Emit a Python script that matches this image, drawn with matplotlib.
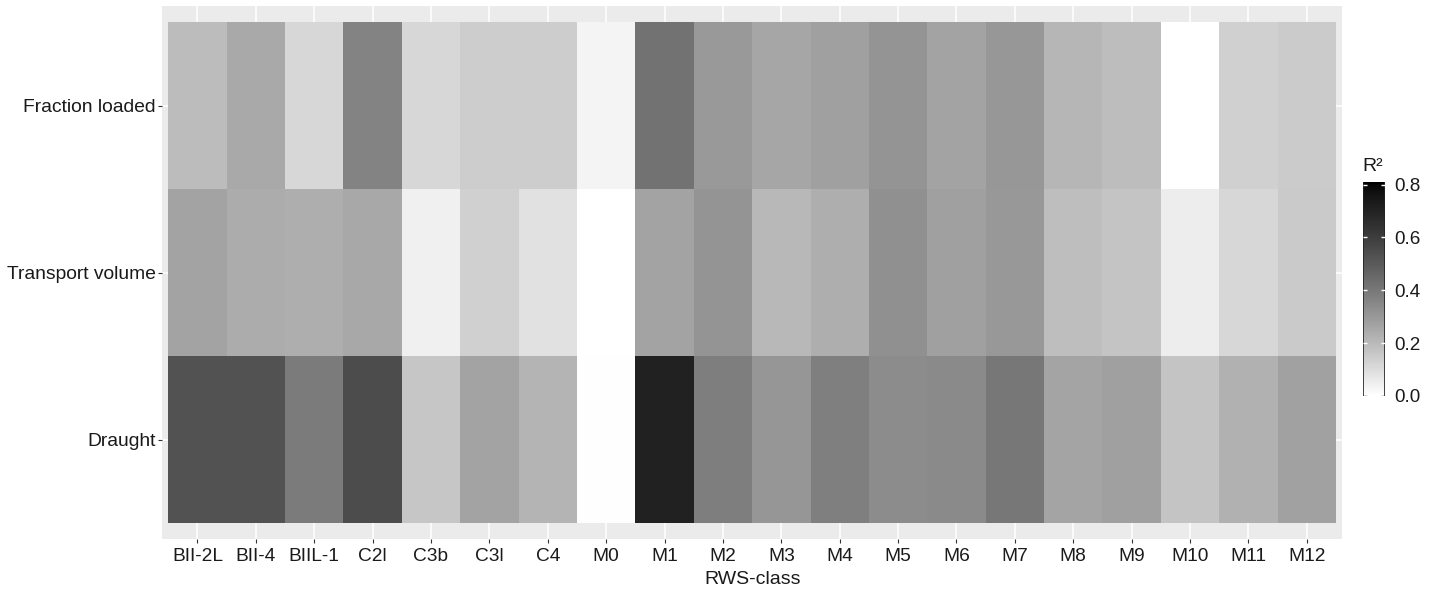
import numpy as np
import matplotlib
matplotlib.use("Agg")
import matplotlib.pyplot as plt
from matplotlib.colors import ListedColormap, Normalize
from matplotlib.cm import ScalarMappable

plt.rcParams['font.family'] = ['Liberation Sans', 'DejaVu Sans']

# RWS vessel classes along x, explanatory variables along y (bottom to top)
classes = ["BII-2L", "BII-4", "BIIL-1", "C2l", "C3b", "C3l", "C4", "M0", "M1", "M2",
           "M3", "M4", "M5", "M6", "M7", "M8", "M9", "M10", "M11", "M12"]
variables = ["Draught", "Transport volume", "Fraction loaded"]

# R-squared per class
r2_draught = [0.527, 0.527, 0.392, 0.548, 0.163, 0.267, 0.216, 0.006, 0.703, 0.382,
              0.307, 0.379, 0.338, 0.344, 0.402, 0.264, 0.276, 0.169, 0.225, 0.273]
r2_transport = [0.267, 0.243, 0.237, 0.252, 0.042, 0.134, 0.088, 0.000, 0.267, 0.316,
                0.204, 0.237, 0.329, 0.276, 0.301, 0.189, 0.169, 0.053, 0.116, 0.154]
r2_fraction = [0.195, 0.249, 0.116, 0.366, 0.116, 0.145, 0.145, 0.034, 0.421, 0.298,
               0.258, 0.276, 0.316, 0.267, 0.304, 0.210, 0.192, 0.000, 0.134, 0.151]

cbar_ticks = [0.0, 0.2, 0.4, 0.6, 0.8]
vmin, vmax = 0.0, 0.81


def lightness_to_gray(L):
    """CIE L* (0-100) to an sRGB grey level in [0, 1]."""
    fy = (L + 16.0) / 116.0
    Y = np.where(fy > 6 / 29, fy ** 3, 3 * (6 / 29) ** 2 * (fy - 4 / 29))
    c = np.where(Y <= 0.0031308, 12.92 * Y, 1.055 * np.power(np.clip(Y, 0, None), 1 / 2.4) - 0.055)
    return np.clip(c, 0, 1)


# white -> black gradient, interpolated in Lab space
t = np.linspace(0, 1, 256)
g = lightness_to_gray(100 * (1 - t))
cmap = ListedColormap(np.column_stack([g, g, g, np.ones_like(g)]))
norm = Normalize(vmin=vmin, vmax=vmax)

data = np.array([r2_draught, r2_transport, r2_fraction])

W, H = 1433, 592
fig = plt.figure(figsize=(W / 100, H / 100), dpi=100)

ax = fig.add_axes([162 / W, 1 - 539.3 / H, (1342.3 - 162) / W, (539.3 - 6) / H])
ax.set_facecolor("#EBEBEB")
for s in ax.spines.values():
    s.set_visible(False)

nx, ny = len(classes), len(variables)
xpos = np.arange(1, nx + 1)
ypos = np.arange(1, ny + 1)

ax.set_axisbelow(True)
ax.grid(True, color="white", linewidth=1.1)
ax.pcolormesh(np.arange(0.5, nx + 1), np.arange(0.5, ny + 1), data,
              cmap=cmap, norm=norm, shading="flat", antialiased=False, zorder=2)

ax.set_xlim(0.5 - 0.108, nx + 0.5 + 0.108)
ax.set_ylim(0.5 - 0.096, ny + 0.5 + 0.096)

text_color = "#1A1A1A"
ax.set_xticks(xpos)
ax.set_xticklabels(classes)
ax.set_yticks(ypos)
ax.set_yticklabels(variables)
ax.tick_params(axis="both", length=3.2, width=0.8, color="#333333", labelcolor=text_color)
ax.tick_params(axis="x", pad=3.0, labelsize=13.8)
ax.tick_params(axis="y", pad=1.5, labelsize=13.9)
for lbl in ax.get_yticklabels():
    lbl.set_verticalalignment("center_baseline")
ax.set_xlabel("RWS-class", fontsize=14, color=text_color, labelpad=4.5)

# colour bar legend
cax = fig.add_axes([1363 / W, 1 - 396 / H, 22 / W, (396 - 182) / H])
cb = fig.colorbar(ScalarMappable(norm=norm, cmap=cmap), cax=cax)
cb.outline.set_visible(False)
cax.set_xlim(0, 1)
cax.axvline(0, color="#222222", lw=1.2)
cax.axvline(1, color="#222222", lw=1.2)
cb.set_ticks(cbar_ticks)
cb.set_ticklabels([f"{v:.1f}" for v in cbar_ticks])
cax.tick_params(length=0, pad=7, labelsize=13.6, labelcolor=text_color)
for v in cbar_ticks:
    col = "#222222" if v == 0.0 else "white"
    cax.plot([0.0, 0.2], [v, v], color=col, lw=1.0, solid_capstyle="butt")
    cax.plot([0.8, 1.0], [v, v], color=col, lw=1.0, solid_capstyle="butt")
cax.set_ylim(vmin, vmax)
fig.text(1362 / W, 1 - 166 / H, "R²", fontsize=14, color=text_color,
         ha="left", va="center")

fig.savefig("out.png", dpi=100)
